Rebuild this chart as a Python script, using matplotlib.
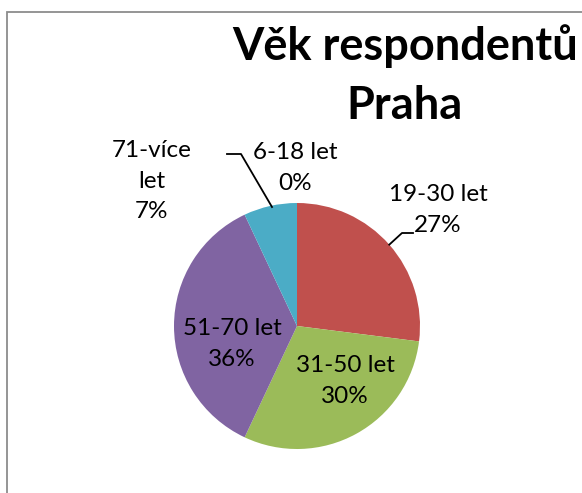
import matplotlib.pyplot as plt
from matplotlib.patches import Rectangle
import numpy as np

# data
categories = ['6-18 let', '19-30 let', '31-50 let', '51-70 let', '71-více let']
shares = [0, 27, 30, 36, 7]
label_text = ['6-18 let\n0%', '19-30 let\n27%', '31-50 let\n30%',
              '51-70 let\n36%', '71-více\nlet\n7%']
colors = ['#4F81BD', '#C0504D', '#9BBB59', '#8064A2', '#4BACC6']

W, H = 582, 493
R = 123          # pie radius (px)
CX, CY = 297, 326  # pie centre (px, from top-left)


def px(x, y):
    # pixel position -> axes data units (pie radius = 1)
    return ((x - CX) / R, (CY - y) / R)


plt.rcParams['font.family'] = ['Lato', 'DejaVu Sans']

fig = plt.figure(figsize=(W / 100, H / 100), dpi=100)
ax = fig.add_axes([0, 0, 1, 1])
wedges, _ = ax.pie(shares, colors=colors, startangle=90, counterclock=False,
                   radius=1, center=(0, 0), wedgeprops=dict(linewidth=0))
x0, y0 = px(0, H)
x1, y1 = px(W, 0)
ax.set_xlim(x0, x1)
ax.set_ylim(y0, y1)
ax.set_aspect('auto')
ax.axis('off')

# labels
label_pos = [(295, 168), (438, 210), (345, 381), (232, 344), (152, 181)]
for txt, (lx, ly) in zip(label_text, label_pos):
    ax.text(*px(lx, ly), txt, ha='center', va='center', fontsize=17.5,
            linespacing=1.55, color='black')

# leader lines
w = wedges[1]
mid = np.deg2rad((w.theta1 + w.theta2) / 2)
ex, ey = np.cos(mid), np.sin(mid)
ax.plot([ex, px(402, 233)[0], px(413, 233)[0]],
        [ey, px(402, 233)[1], px(413, 233)[1]], color='black', lw=1.3)
pts = [px(227, 154), px(241, 154), px(272, 207)]
ax.plot([p[0] for p in pts], [p[1] for p in pts], color='black', lw=1.3)

# title
ax.text(*px(405, 46), 'Věk respondentů', ha='center', va='center',
        fontsize=32.5, fontweight='bold')
ax.text(*px(405, 106), 'Praha', ha='center', va='center',
        fontsize=32.5, fontweight='bold')

# chart frame
fig.patches.append(Rectangle((6.5 / W, -0.1), 1.2, 1 - 12.5 / H + 0.1,
                             transform=fig.transFigure, fill=False,
                             edgecolor='#8c8c8c', linewidth=1.3))

fig.savefig('out.png', dpi=100)
